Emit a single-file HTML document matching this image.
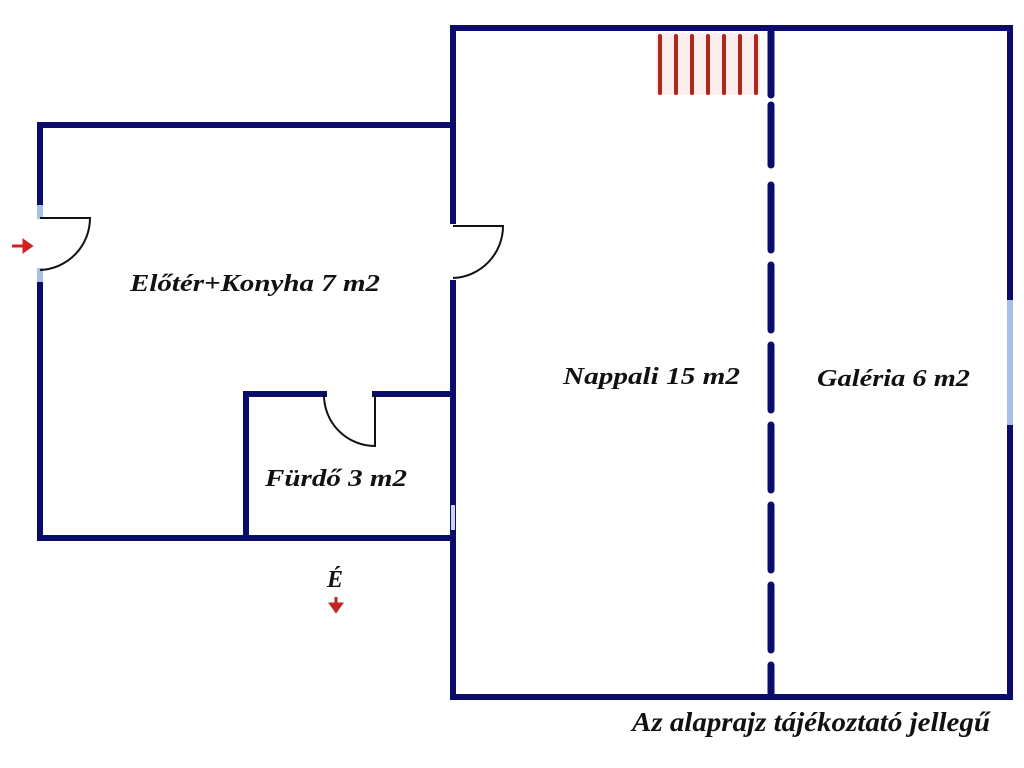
<!DOCTYPE html>
<html><head><meta charset="utf-8"><style>
html,body{margin:0;padding:0;background:#fff;width:1024px;height:768px;overflow:hidden}
text{font-family:"Liberation Serif",serif;font-weight:bold;font-style:italic;fill:#111}
</style></head><body>
<svg width="1024" height="768" viewBox="0 0 1024 768" xmlns="http://www.w3.org/2000/svg">
<g stroke="#0b0b6b" stroke-width="6" fill="none" stroke-linecap="square">
<path d="M453 28 H1010 V697 H453 Z"/>
<path d="M453 125 H40 V210"/>
<path d="M40 275 V538 H453"/>
<path d="M246 538 V394 H324"/>
<path d="M375 394 H453"/>
</g>
<rect x="449" y="224" width="10" height="56" fill="#fff"/>
<g stroke="#0b0b6b" stroke-width="7" fill="none" stroke-linecap="round">
<path d="M771 32 V95 M771 105 V165 M771 185 V250 M771 265 V330 M771 345 V410 M771 425 V490 M771 505 V570 M771 585 V650 M771 665 V695"/>
</g>
<rect x="37" y="205" width="6" height="14" fill="#a9c0e6"/>
<rect x="37" y="268" width="6" height="14" fill="#a9c0e6"/>
<rect x="1007" y="300" width="6" height="125" fill="#a9c0e6"/>
<rect x="451" y="505" width="4" height="25" fill="#c9d4ee"/>
<g stroke="#111" stroke-width="2" fill="none">
<path d="M40 218 H90 A52 52 0 0 1 40 270"/>
<path d="M453 226 H503 A52 52 0 0 1 453 278"/>
<path d="M375 394 V446 A51 51 0 0 1 324 394"/>
</g>
<rect x="656" y="33" width="104" height="62" fill="#fdeeee"/>
<g stroke="#b0261e" stroke-width="4" stroke-linecap="round">
<path d="M660 36V93M676 36V93M692 36V93M708 36V93M724 36V93M740 36V93M756 36V93"/>
</g>
<path d="M12 246 H24 V241 L31 246 L24 251 V246 Z" fill="#d02020" stroke="#d02020" stroke-width="3"/>
<path d="M336 597 V604 H331 L336 611 L341 604 H336 Z" fill="#c0261e" stroke="#c0261e" stroke-width="3"/>
<text x="130" y="291" font-size="24" textLength="250" lengthAdjust="spacingAndGlyphs">Előtér+Konyha 7 m2</text>
<text x="563" y="384" font-size="24" textLength="177" lengthAdjust="spacingAndGlyphs">Nappali 15 m2</text>
<text x="817" y="386" font-size="24" textLength="153" lengthAdjust="spacingAndGlyphs">Galéria 6 m2</text>
<text x="265" y="486" font-size="24" textLength="142" lengthAdjust="spacingAndGlyphs">Fürdő 3 m2</text>
<text x="327" y="587" font-size="24">É</text>
<text x="632" y="731" font-size="27" textLength="358" lengthAdjust="spacingAndGlyphs">Az alaprajz tájékoztató jellegű</text>
</svg>
</body></html>
